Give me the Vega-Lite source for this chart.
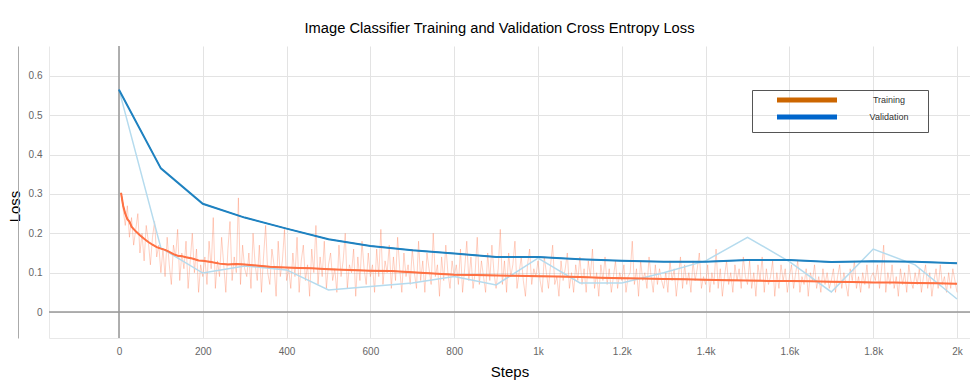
{
  "$schema": "https://vega.github.io/schema/vega-lite/v6.json",
  "width": 921,
  "height": 292,
  "autosize": {"type": "none"},
  "padding": {"left": 49, "top": 46, "right": 0, "bottom": 47},
  "background": "white",
  "title": {"text": "Image Classifier Training and Validation Cross Entropy Loss", "font": "Liberation Sans", "fontSize": 14.7, "fontWeight": "normal", "color": "#000", "anchor": "middle", "offset": 10, "dx": -10},
  "config": {
    "view": {"stroke": null},
    "axis": {"labelFont": "Liberation Sans", "labelFontSize": 10, "labelColor": "#666", "ticks": false, "gridColor": "#e3e3e3", "gridWidth": 1, "titleFont": "Liberation Sans", "titleFontSize": 15, "titleFontWeight": "normal", "titleColor": "#000"}
  },
  "datasets": {
    "train": [
      {"step":5,"loss":0.30},{"step":10,"loss":0.26},{"step":15,"loss":0.22},{"step":20,"loss":0.27},{"step":25,"loss":0.19},{"step":30,"loss":0.24},{"step":35,"loss":0.17},{"step":40,"loss":0.21},{"step":45,"loss":0.25},{"step":50,"loss":0.15},{"step":55,"loss":0.20},{"step":60,"loss":0.13},{"step":65,"loss":0.22},{"step":70,"loss":0.18},{"step":75,"loss":0.12},{"step":80,"loss":0.19},{"step":85,"loss":0.23},{"step":90,"loss":0.14},{"step":95,"loss":0.17},{"step":100,"loss":0.10},
      {"step":105,"loss":0.16},{"step":110,"loss":0.09},{"step":115,"loss":0.19},{"step":120,"loss":0.12},{"step":125,"loss":0.07},{"step":130,"loss":0.17},{"step":135,"loss":0.14},{"step":140,"loss":0.21},{"step":145,"loss":0.08},{"step":150,"loss":0.15},{"step":155,"loss":0.11},{"step":160,"loss":0.18},{"step":165,"loss":0.06},{"step":170,"loss":0.13},{"step":175,"loss":0.20},{"step":180,"loss":0.10},{"step":185,"loss":0.16},{"step":190,"loss":0.05},{"step":195,"loss":0.12},{"step":200,"loss":0.09},
      {"step":205,"loss":0.14},{"step":210,"loss":0.07},{"step":215,"loss":0.18},{"step":220,"loss":0.11},{"step":225,"loss":0.24},{"step":230,"loss":0.06},{"step":235,"loss":0.13},{"step":240,"loss":0.09},{"step":245,"loss":0.19},{"step":250,"loss":0.12},{"step":255,"loss":0.05},{"step":260,"loss":0.16},{"step":265,"loss":0.23},{"step":270,"loss":0.08},{"step":275,"loss":0.14},{"step":280,"loss":0.10},{"step":285,"loss":0.29},{"step":290,"loss":0.07},{"step":295,"loss":0.17},{"step":300,"loss":0.11},
      {"step":305,"loss":0.09},{"step":310,"loss":0.15},{"step":315,"loss":0.06},{"step":320,"loss":0.20},{"step":325,"loss":0.12},{"step":330,"loss":0.08},{"step":335,"loss":0.17},{"step":340,"loss":0.05},{"step":345,"loss":0.14},{"step":350,"loss":0.22},{"step":355,"loss":0.10},{"step":360,"loss":0.07},{"step":365,"loss":0.16},{"step":370,"loss":0.12},{"step":375,"loss":0.04},{"step":380,"loss":0.18},{"step":385,"loss":0.09},{"step":390,"loss":0.13},{"step":395,"loss":0.21},{"step":400,"loss":0.08},
      {"step":405,"loss":0.11},{"step":410,"loss":0.06},{"step":415,"loss":0.15},{"step":420,"loss":0.09},{"step":425,"loss":0.19},{"step":430,"loss":0.05},{"step":435,"loss":0.13},{"step":440,"loss":0.17},{"step":445,"loss":0.08},{"step":450,"loss":0.12},{"step":455,"loss":0.04},{"step":460,"loss":0.16},{"step":465,"loss":0.10},{"step":470,"loss":0.22},{"step":475,"loss":0.07},{"step":480,"loss":0.14},{"step":485,"loss":0.09},{"step":490,"loss":0.18},{"step":495,"loss":0.06},{"step":500,"loss":0.12},
      {"step":505,"loss":0.15},{"step":510,"loss":0.08},{"step":515,"loss":0.11},{"step":520,"loss":0.05},{"step":525,"loss":0.17},{"step":530,"loss":0.09},{"step":535,"loss":0.13},{"step":540,"loss":0.20},{"step":545,"loss":0.06},{"step":550,"loss":0.12},{"step":555,"loss":0.10},{"step":560,"loss":0.16},{"step":565,"loss":0.04},{"step":570,"loss":0.14},{"step":575,"loss":0.08},{"step":580,"loss":0.18},{"step":585,"loss":0.11},{"step":590,"loss":0.07},{"step":595,"loss":0.15},{"step":600,"loss":0.09},
      {"step":605,"loss":0.12},{"step":610,"loss":0.05},{"step":615,"loss":0.16},{"step":620,"loss":0.09},{"step":625,"loss":0.21},{"step":630,"loss":0.07},{"step":635,"loss":0.13},{"step":640,"loss":0.10},{"step":645,"loss":0.17},{"step":650,"loss":0.06},{"step":655,"loss":0.14},{"step":660,"loss":0.08},{"step":665,"loss":0.19},{"step":670,"loss":0.11},{"step":675,"loss":0.05},{"step":680,"loss":0.15},{"step":685,"loss":0.09},{"step":690,"loss":0.12},{"step":695,"loss":0.07},{"step":700,"loss":0.16},
      {"step":705,"loss":0.10},{"step":710,"loss":0.06},{"step":715,"loss":0.18},{"step":720,"loss":0.08},{"step":725,"loss":0.13},{"step":730,"loss":0.05},{"step":735,"loss":0.15},{"step":740,"loss":0.11},{"step":745,"loss":0.07},{"step":750,"loss":0.20},{"step":755,"loss":0.09},{"step":760,"loss":0.12},{"step":765,"loss":0.04},{"step":770,"loss":0.14},{"step":775,"loss":0.08},{"step":780,"loss":0.17},{"step":785,"loss":0.10},{"step":790,"loss":0.06},{"step":795,"loss":0.13},{"step":800,"loss":0.09},
      {"step":805,"loss":0.12},{"step":810,"loss":0.07},{"step":815,"loss":0.16},{"step":820,"loss":0.05},{"step":825,"loss":0.11},{"step":830,"loss":0.18},{"step":835,"loss":0.08},{"step":840,"loss":0.14},{"step":845,"loss":0.06},{"step":850,"loss":0.10},{"step":855,"loss":0.19},{"step":860,"loss":0.07},{"step":865,"loss":0.13},{"step":870,"loss":0.09},{"step":875,"loss":0.05},{"step":880,"loss":0.15},{"step":885,"loss":0.08},{"step":890,"loss":0.17},{"step":895,"loss":0.10},{"step":900,"loss":0.06},
      {"step":905,"loss":0.11},{"step":910,"loss":0.21},{"step":915,"loss":0.07},{"step":920,"loss":0.13},{"step":925,"loss":0.05},{"step":930,"loss":0.15},{"step":935,"loss":0.09},{"step":940,"loss":0.12},{"step":945,"loss":0.18},{"step":950,"loss":0.06},{"step":955,"loss":0.10},{"step":960,"loss":0.14},{"step":965,"loss":0.08},{"step":970,"loss":0.04},{"step":975,"loss":0.12},{"step":980,"loss":0.16},{"step":985,"loss":0.07},{"step":990,"loss":0.11},{"step":995,"loss":0.09},{"step":1000,"loss":0.13},
      {"step":1005,"loss":0.08},{"step":1010,"loss":0.05},{"step":1015,"loss":0.14},{"step":1020,"loss":0.10},{"step":1025,"loss":0.06},{"step":1030,"loss":0.12},{"step":1035,"loss":0.17},{"step":1040,"loss":0.07},{"step":1045,"loss":0.09},{"step":1050,"loss":0.04},{"step":1055,"loss":0.13},{"step":1060,"loss":0.08},{"step":1065,"loss":0.11},{"step":1070,"loss":0.15},{"step":1075,"loss":0.06},{"step":1080,"loss":0.10},{"step":1085,"loss":0.05},{"step":1090,"loss":0.12},{"step":1095,"loss":0.08},{"step":1100,"loss":0.14},
      {"step":1105,"loss":0.07},{"step":1110,"loss":0.11},{"step":1115,"loss":0.05},{"step":1120,"loss":0.13},{"step":1125,"loss":0.09},{"step":1130,"loss":0.16},{"step":1135,"loss":0.06},{"step":1140,"loss":0.10},{"step":1145,"loss":0.04},{"step":1150,"loss":0.12},{"step":1155,"loss":0.08},{"step":1160,"loss":0.14},{"step":1165,"loss":0.07},{"step":1170,"loss":0.11},{"step":1175,"loss":0.05},{"step":1180,"loss":0.09},{"step":1185,"loss":0.13},{"step":1190,"loss":0.06},{"step":1195,"loss":0.10},{"step":1200,"loss":0.08},
      {"step":1205,"loss":0.12},{"step":1210,"loss":0.05},{"step":1215,"loss":0.09},{"step":1220,"loss":0.10},{"step":1225,"loss":0.18},{"step":1230,"loss":0.07},{"step":1235,"loss":0.11},{"step":1240,"loss":0.04},{"step":1245,"loss":0.13},{"step":1250,"loss":0.08},{"step":1255,"loss":0.10},{"step":1260,"loss":0.06},{"step":1265,"loss":0.14},{"step":1270,"loss":0.09},{"step":1275,"loss":0.05},{"step":1280,"loss":0.12},{"step":1285,"loss":0.07},{"step":1290,"loss":0.11},{"step":1295,"loss":0.08},{"step":1300,"loss":0.06},
      {"step":1305,"loss":0.10},{"step":1310,"loss":0.05},{"step":1315,"loss":0.13},{"step":1320,"loss":0.08},{"step":1325,"loss":0.11},{"step":1330,"loss":0.04},{"step":1335,"loss":0.09},{"step":1340,"loss":0.14},{"step":1345,"loss":0.06},{"step":1350,"loss":0.12},{"step":1355,"loss":0.07},{"step":1360,"loss":0.10},{"step":1365,"loss":0.05},{"step":1370,"loss":0.13},{"step":1375,"loss":0.08},{"step":1380,"loss":0.11},{"step":1385,"loss":0.15},{"step":1390,"loss":0.06},{"step":1395,"loss":0.09},{"step":1400,"loss":0.07},
      {"step":1405,"loss":0.12},{"step":1410,"loss":0.05},{"step":1415,"loss":0.10},{"step":1420,"loss":0.07},{"step":1425,"loss":0.16},{"step":1430,"loss":0.06},{"step":1435,"loss":0.11},{"step":1440,"loss":0.04},{"step":1445,"loss":0.09},{"step":1450,"loss":0.13},{"step":1455,"loss":0.07},{"step":1460,"loss":0.10},{"step":1465,"loss":0.05},{"step":1470,"loss":0.12},{"step":1475,"loss":0.08},{"step":1480,"loss":0.11},{"step":1485,"loss":0.06},{"step":1490,"loss":0.14},{"step":1495,"loss":0.09},{"step":1500,"loss":0.07},
      {"step":1505,"loss":0.13},{"step":1510,"loss":0.06},{"step":1515,"loss":0.10},{"step":1520,"loss":0.04},{"step":1525,"loss":0.12},{"step":1530,"loss":0.08},{"step":1535,"loss":0.14},{"step":1540,"loss":0.05},{"step":1545,"loss":0.11},{"step":1550,"loss":0.07},{"step":1555,"loss":0.09},{"step":1560,"loss":0.13},{"step":1565,"loss":0.04},{"step":1570,"loss":0.10},{"step":1575,"loss":0.06},{"step":1580,"loss":0.12},{"step":1585,"loss":0.08},{"step":1590,"loss":0.11},{"step":1595,"loss":0.05},{"step":1600,"loss":0.09},
      {"step":1605,"loss":0.12},{"step":1610,"loss":0.06},{"step":1615,"loss":0.10},{"step":1620,"loss":0.13},{"step":1625,"loss":0.05},{"step":1630,"loss":0.09},{"step":1635,"loss":0.07},{"step":1640,"loss":0.11},{"step":1645,"loss":0.04},{"step":1650,"loss":0.10},{"step":1655,"loss":0.08},{"step":1660,"loss":0.12},{"step":1665,"loss":0.06},{"step":1670,"loss":0.09},{"step":1675,"loss":0.05},{"step":1680,"loss":0.11},{"step":1685,"loss":0.07},{"step":1690,"loss":0.10},{"step":1695,"loss":0.06},{"step":1700,"loss":0.08},
      {"step":1705,"loss":0.11},{"step":1710,"loss":0.05},{"step":1715,"loss":0.09},{"step":1720,"loss":0.12},{"step":1725,"loss":0.06},{"step":1730,"loss":0.10},{"step":1735,"loss":0.07},{"step":1740,"loss":0.04},{"step":1745,"loss":0.11},{"step":1750,"loss":0.08},{"step":1755,"loss":0.13},{"step":1760,"loss":0.06},{"step":1765,"loss":0.09},{"step":1770,"loss":0.05},{"step":1775,"loss":0.10},{"step":1780,"loss":0.07},{"step":1785,"loss":0.12},{"step":1790,"loss":0.06},{"step":1795,"loss":0.09},{"step":1800,"loss":0.10},
      {"step":1805,"loss":0.08},{"step":1810,"loss":0.12},{"step":1815,"loss":0.06},{"step":1820,"loss":0.11},{"step":1825,"loss":0.17},{"step":1830,"loss":0.05},{"step":1835,"loss":0.10},{"step":1840,"loss":0.07},{"step":1845,"loss":0.12},{"step":1850,"loss":0.06},{"step":1855,"loss":0.09},{"step":1860,"loss":0.04},{"step":1865,"loss":0.11},{"step":1870,"loss":0.07},{"step":1875,"loss":0.10},{"step":1880,"loss":0.05},{"step":1885,"loss":0.12},{"step":1890,"loss":0.08},{"step":1895,"loss":0.06},{"step":1900,"loss":0.10},
      {"step":1905,"loss":0.07},{"step":1910,"loss":0.11},{"step":1915,"loss":0.05},{"step":1920,"loss":0.09},{"step":1925,"loss":0.12},{"step":1930,"loss":0.06},{"step":1935,"loss":0.10},{"step":1940,"loss":0.04},{"step":1945,"loss":0.08},{"step":1950,"loss":0.11},{"step":1955,"loss":0.06},{"step":1960,"loss":0.12},{"step":1965,"loss":0.07},{"step":1970,"loss":0.09},{"step":1975,"loss":0.05},{"step":1980,"loss":0.10},{"step":1985,"loss":0.06},{"step":1990,"loss":0.11},{"step":1995,"loss":0.08},{"step":2000,"loss":0.05}
    ],
    "val": [
      {"step":0,"loss":0.565},{"step":100,"loss":0.163},{"step":200,"loss":0.099},{"step":300,"loss":0.117},{"step":400,"loss":0.107},{"step":500,"loss":0.056},{"step":600,"loss":0.065},{"step":700,"loss":0.074},{"step":800,"loss":0.09},{"step":900,"loss":0.069},{"step":1000,"loss":0.137},{"step":1100,"loss":0.074},{"step":1200,"loss":0.074},{"step":1300,"loss":0.1},{"step":1400,"loss":0.13},{"step":1500,"loss":0.19},{"step":1600,"loss":0.128},{"step":1700,"loss":0.051},{"step":1800,"loss":0.16},{"step":1900,"loss":0.12},{"step":2000,"loss":0.033}
    ],
    "smooth": [
      {"series":"Training","step":5,"loss":0.303},{"series":"Training","step":10,"loss":0.27},{"series":"Training","step":15,"loss":0.25},{"series":"Training","step":20,"loss":0.236},{"series":"Training","step":25,"loss":0.23},{"series":"Training","step":30,"loss":0.217},{"series":"Training","step":40,"loss":0.205},{"series":"Training","step":50,"loss":0.195},{"series":"Training","step":60,"loss":0.186},{"series":"Training","step":70,"loss":0.178},{"series":"Training","step":80,"loss":0.171},{"series":"Training","step":90,"loss":0.165},{"series":"Training","step":100,"loss":0.161},{"series":"Training","step":110,"loss":0.158},{"series":"Training","step":120,"loss":0.153},{"series":"Training","step":130,"loss":0.147},{"series":"Training","step":140,"loss":0.143},{"series":"Training","step":150,"loss":0.142},{"series":"Training","step":160,"loss":0.139},{"series":"Training","step":175,"loss":0.136},{"series":"Training","step":190,"loss":0.131},{"series":"Training","step":200,"loss":0.13},{"series":"Training","step":220,"loss":0.127},{"series":"Training","step":240,"loss":0.123},{"series":"Training","step":260,"loss":0.121},{"series":"Training","step":280,"loss":0.122},{"series":"Training","step":300,"loss":0.121},{"series":"Training","step":320,"loss":0.119},{"series":"Training","step":340,"loss":0.117},{"series":"Training","step":360,"loss":0.115},{"series":"Training","step":380,"loss":0.114},{"series":"Training","step":400,"loss":0.113},{"series":"Training","step":430,"loss":0.112},{"series":"Training","step":460,"loss":0.111},{"series":"Training","step":500,"loss":0.109},{"series":"Training","step":550,"loss":0.107},{"series":"Training","step":600,"loss":0.105},{"series":"Training","step":650,"loss":0.104},{"series":"Training","step":700,"loss":0.101},{"series":"Training","step":750,"loss":0.098},{"series":"Training","step":800,"loss":0.095},{"series":"Training","step":850,"loss":0.094},{"series":"Training","step":900,"loss":0.093},{"series":"Training","step":950,"loss":0.092},{"series":"Training","step":1000,"loss":0.091},{"series":"Training","step":1050,"loss":0.09},{"series":"Training","step":1100,"loss":0.089},{"series":"Training","step":1150,"loss":0.087},{"series":"Training","step":1200,"loss":0.086},{"series":"Training","step":1250,"loss":0.085},{"series":"Training","step":1300,"loss":0.084},{"series":"Training","step":1350,"loss":0.083},{"series":"Training","step":1400,"loss":0.082},{"series":"Training","step":1450,"loss":0.081},{"series":"Training","step":1500,"loss":0.08},{"series":"Training","step":1550,"loss":0.079},{"series":"Training","step":1600,"loss":0.079},{"series":"Training","step":1650,"loss":0.078},{"series":"Training","step":1700,"loss":0.077},{"series":"Training","step":1750,"loss":0.076},{"series":"Training","step":1800,"loss":0.075},{"series":"Training","step":1850,"loss":0.075},{"series":"Training","step":1900,"loss":0.074},{"series":"Training","step":1950,"loss":0.073},{"series":"Training","step":2000,"loss":0.072},
      {"series":"Validation","step":0,"loss":0.565},{"series":"Validation","step":100,"loss":0.365},{"series":"Validation","step":200,"loss":0.275},{"series":"Validation","step":300,"loss":0.24},{"series":"Validation","step":400,"loss":0.212},{"series":"Validation","step":500,"loss":0.185},{"series":"Validation","step":600,"loss":0.168},{"series":"Validation","step":700,"loss":0.157},{"series":"Validation","step":800,"loss":0.149},{"series":"Validation","step":900,"loss":0.14},{"series":"Validation","step":1000,"loss":0.14},{"series":"Validation","step":1100,"loss":0.134},{"series":"Validation","step":1200,"loss":0.13},{"series":"Validation","step":1300,"loss":0.128},{"series":"Validation","step":1400,"loss":0.128},{"series":"Validation","step":1500,"loss":0.132},{"series":"Validation","step":1600,"loss":0.132},{"series":"Validation","step":1700,"loss":0.127},{"series":"Validation","step":1800,"loss":0.129},{"series":"Validation","step":1900,"loss":0.128},{"series":"Validation","step":2000,"loss":0.124}
    ]
  },
  "layer": [
    {
      "data": {"name": "train"},
      "mark": {"type": "line", "stroke": "#ff7043", "strokeOpacity": 0.32, "strokeWidth": 1, "clip": true},
      "encoding": {
        "x": {"field": "step", "type": "quantitative", "scale": {"domain": [-167, 2031], "nice": false, "zero": false},
          "axis": {"values": [0,200,400,600,800,1000,1200,1400,1600,1800,2000], "labelExpr": "datum.value >= 1000 ? (datum.value / 1000) + 'k' : datum.value", "labelPadding": 8, "title": "Steps", "titlePadding": 8, "domain": true, "domainColor": "#e8e8e8", "grid": true}},
        "y": {"field": "loss", "type": "quantitative", "scale": {"domain": [-0.066, 0.676], "nice": false, "zero": false},
          "axis": {"orient": "left", "values": [0,0.1,0.2,0.3,0.4,0.5,0.6], "format": "~g", "labelPadding": 7, "title": "Loss", "titlePadding": 6, "titleY": 160, "domain": true, "domainColor": "#e8e8e8", "grid": true}}
      }
    },
    {
      "data": {"name": "val"},
      "mark": {"type": "line", "stroke": "#b5dbee", "strokeWidth": 1.5, "clip": true},
      "encoding": {
        "x": {"field": "step", "type": "quantitative"},
        "y": {"field": "loss", "type": "quantitative", "axis": null}
      }
    },
    {
      "data": {"values": [{"z": 0}]},
      "mark": {"type": "rule", "color": "#999", "strokeWidth": 1.5},
      "encoding": {
        "y": {"field": "z", "type": "quantitative",
          "axis": {"orient": "left", "offset": 31, "labels": false, "ticks": false, "grid": false, "domain": true, "domainColor": "#aaa", "title": null}}
      }
    },
    {
      "data": {"values": [{"z": 0}]},
      "mark": {"type": "rule", "color": "#999", "strokeWidth": 1.5},
      "encoding": {
        "x": {"field": "z", "type": "quantitative"}
      }
    },
    {
      "data": {"name": "smooth"},
      "mark": {"type": "line", "strokeWidth": 1, "clip": true},
      "encoding": {
        "x": {"field": "step", "type": "quantitative"},
        "y": {"field": "loss", "type": "quantitative", "axis": null},
        "color": {"field": "series", "type": "nominal",
          "scale": {"domain": ["Training", "Validation"], "range": ["#cc6600", "#0066cc"]},
          "legend": {"orient": "none", "legendX": 703, "legendY": 44, "title": "\u00a0", "titleOrient": "right", "titlePadding": 15, "titleFontSize": 9, "symbolType": "M6,0H30", "symbolSize": 25, "symbolStrokeWidth": 5, "labelOffset": 122, "labelAlign": "center", "labelFont": "Liberation Sans", "labelFontSize": 9, "labelColor": "#333", "strokeColor": "#555", "padding": 5, "rowPadding": -3}}
      }
    },
    {
      "data": {"name": "smooth"},
      "mark": {"type": "line", "strokeWidth": 2, "clip": true},
      "encoding": {
        "x": {"field": "step", "type": "quantitative"},
        "y": {"field": "loss", "type": "quantitative", "axis": null},
        "stroke": {"field": "series", "type": "nominal", "scale": {"domain": ["Training", "Validation"], "range": ["#ff7043", "#1f82c0"]}, "legend": null}
      }
    }
  ],
  "resolve": {"axis": {"y": "independent"}}
}
